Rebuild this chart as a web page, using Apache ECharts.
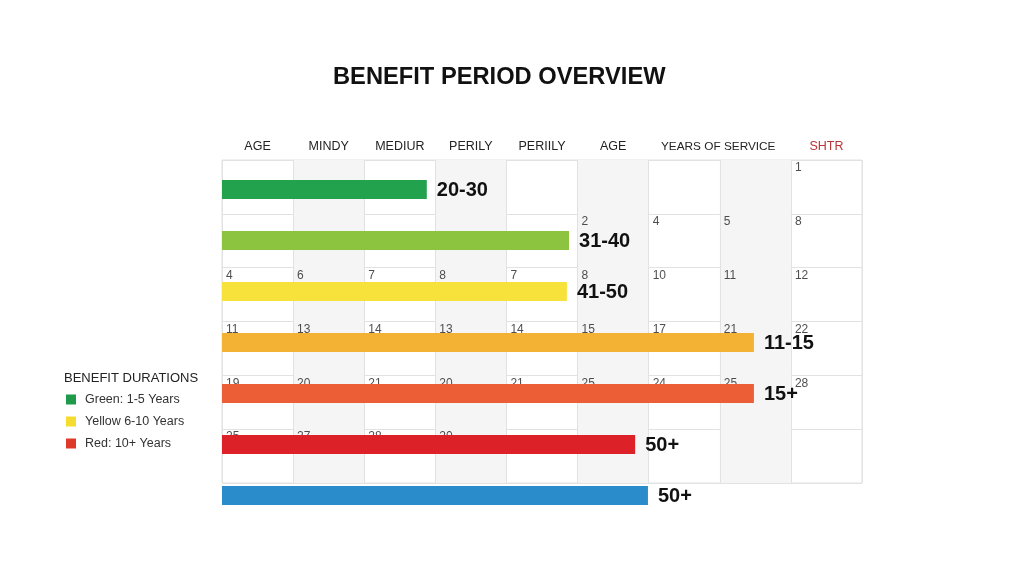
<!DOCTYPE html>
<html>
<head>
<meta charset="utf-8">
<script src="https://cdn.jsdelivr.net/npm/echarts@6/dist/echarts.min.js"></script>
<style>html,body{margin:0;padding:0;background:#fff;}#c{width:1024px;height:576px;}</style>
</head>
<body>
<div id="c"></div>
<script>
const chartTitle = 'BENEFIT PERIOD OVERVIEW';
const columnHeaders = ['AGE', 'MINDY', 'MEDIUR', 'PERILY', 'PERIILY', 'AGE', 'YEARS OF SERVICE', '', 'SHTR'];
const barCategories = ['r1', 'r2', 'r3', 'r4', 'r5', 'r6', 'r7'];
const barValues = [2.88, 4.88, 4.85, 7.48, 7.48, 5.81, 5.99];
const barLabels = ['20-30', '31-40', '41-50', '11-15', '15+', '50+', '50+'];
const barColors = ['#22a24c', '#8cc43f', '#f6e23a', '#f3b233', '#ec5f36', '#dc2228', '#2a8ccb'];
const cellNumbers = [
  [null, null, null, null, null, null, null, null, 1],
  [null, null, null, null, null, 2, 4, 5, 8],
  [4, 6, 7, 8, 7, 8, 10, 11, 12],
  [11, 13, 14, 13, 14, 15, 17, 21, 22],
  [19, 20, 21, 20, 21, 25, 24, 25, 28],
  [25, 27, 28, 20, null, null, null, null, null]
];
const legendTitle = 'BENEFIT DURATIONS';
const legendNames = ['Green: 1-5 Years', 'Yellow 6-10 Years', 'Red: 10+ Years'];
const legendColors = ['#1e9a4a', '#f5dc2e', '#de3a2a'];

const cellData = [];
cellNumbers.forEach((row, r) => row.forEach((v, c) => { if (v !== null) cellData.push([c, r, v]); }));

const headerData = columnHeaders.map((h, i) => {
  if (h === 'YEARS OF SERVICE') return { value: h, textStyle: { padding: [0, 0, 0, 68], fontSize: 11.8 } };
  if (h === 'SHTR') return { value: h, textStyle: { color: '#b8363a' } };
  return h;
});

const chart = echarts.init(document.getElementById('c'));
const font = 'Liberation Sans, Arial, sans-serif';
chart.setOption({
  backgroundColor: '#fff',
  animation: false,
  textStyle: { fontFamily: font },
  title: [
    { text: chartTitle, left: 333, top: 65, padding: 0, textStyle: { fontSize: 23.7, fontWeight: 'bold', color: '#111', fontFamily: font } },
    { text: legendTitle, left: 64, top: 372, padding: 0, textStyle: { fontSize: 13, fontWeight: 'normal', color: '#222', fontFamily: font } }
  ],
  legend: {
    orient: 'vertical', left: 66, top: 393, padding: 0, itemWidth: 10, itemHeight: 10, itemGap: 9,
    icon: 'rect', textStyle: { fontSize: 12.5, color: '#333', fontFamily: font, padding: [0, 0, 0, 4] },
    data: legendNames
  },
  grid: [
    { left: 222, right: 162, top: 160, bottom: 93, show: true, borderColor: '#e2e2e2', borderWidth: 1, backgroundColor: 'transparent' },
    { left: 222, right: 162, top: 163.9, bottom: 55.1 }
  ],
  xAxis: [
    { gridIndex: 0, type: 'value', min: 0, max: 9, interval: 1, axisLabel: { show: false }, axisLine: { show: false }, axisTick: { show: false },
      splitLine: { show: true, lineStyle: { color: '#e2e2e2' } },
      splitArea: { show: true, areaStyle: { color: ['rgba(255,255,255,0)', '#f5f5f5'] } } },
    { gridIndex: 0, type: 'category', position: 'top', data: headerData, boundaryGap: true,
      axisLine: { show: false }, axisTick: { show: false }, splitLine: { show: false },
      axisLabel: { interval: 0, margin: 7, fontSize: 12.5, color: '#222', fontFamily: font } },
    { gridIndex: 1, type: 'value', min: 0, max: 9, interval: 1, show: false }
  ],
  yAxis: [
    { gridIndex: 0, type: 'value', min: 0, max: 6, interval: 1, inverse: true, axisLabel: { show: false }, axisLine: { show: false }, axisTick: { show: false },
      splitLine: { show: true, lineStyle: { color: '#e2e2e2' } } },
    { gridIndex: 1, type: 'category', data: barCategories, inverse: true, show: false }
  ],
  series: [
    { type: 'scatter', name: 'cells', xAxisIndex: 0, yAxisIndex: 0, data: cellData, symbolSize: 0, z: 1, silent: true,
      label: { show: true, position: [4, 2], formatter: p => p.value[2], fontSize: 12, color: '#222', fontFamily: font } },
    { type: 'bar', name: 'bars', xAxisIndex: 2, yAxisIndex: 1, barWidth: 19, z: 5,
      data: barValues.map((v, i) => ({ value: v, itemStyle: { color: barColors[i] } })),
      label: { show: true, position: 'right', distance: 10, offset: [0, 1], fontSize: 20, fontWeight: 'bold', color: '#111', fontFamily: font,
        formatter: p => barLabels[p.dataIndex] } },
    ...legendNames.map((n, i) => ({ type: 'scatter', name: n, xAxisIndex: 0, yAxisIndex: 0, data: [], itemStyle: { color: legendColors[i], opacity: 1 } }))
  ]
});
</script>
</body>
</html>
